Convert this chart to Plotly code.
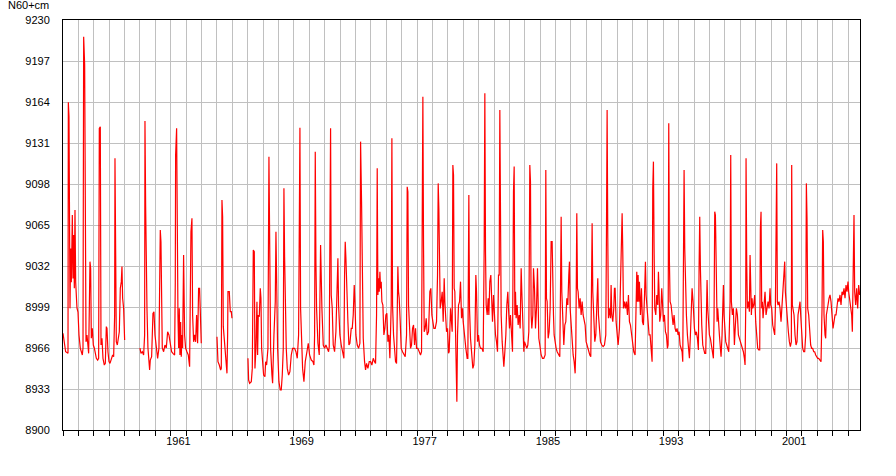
import plotly.graph_objects as go

# Water level readings (decimal year, level in N60+cm), one list per continuous record segment
seg_1954_1957 = [(1954.000,8977.8),(1954.173,8963.0),(1954.325,8961.7),(1954.346,9163.7),(1954.390,9152.2),(1954.455,8997.9),(1954.498,9046.0),(1954.541,9019.0),(1954.606,9073.0),(1954.649,9022.0),(1954.693,9057.0),(1954.736,9014.0),(1954.779,9077.0),(1954.823,9019.0),(1954.866,9006.0),(1954.909,8998.0),(1954.974,8995.0),(1955.039,8976.5),(1955.126,8965.7),(1955.212,8963.0),(1955.255,8960.4),(1955.299,8966.0),(1955.342,9216.6),(1955.407,9193.8),(1955.450,9030.0),(1955.494,8971.0),(1955.558,8976.5),(1955.623,8966.0),(1955.667,8961.7),(1955.710,8998.0),(1955.753,9035.5),(1955.797,9030.0),(1955.840,8973.8),(1955.905,8981.8),(1955.970,8968.4),(1956.035,8966.0),(1956.100,8961.7),(1956.165,8957.7),(1956.251,8956.3),(1956.316,8957.7),(1956.359,9142.8),(1956.424,9144.1),(1956.468,8968.4),(1956.532,8973.8),(1956.597,8957.7),(1956.684,8952.3),(1956.749,8953.6),(1956.814,8983.2),(1956.857,8981.8),(1956.922,8963.0),(1956.987,8955.0),(1957.052,8953.6),(1957.139,8957.7),(1957.225,8960.4),(1957.290,8959.0),(1957.355,8992.6),(1957.377,9118.7),(1957.420,9011.3),(1957.463,8971.1),(1957.528,8968.4),(1957.593,8973.8),(1957.658,8979.1),(1957.723,9014.0),(1957.788,9019.4),(1957.831,9031.5),(1957.874,9006.0),(1957.939,8997.9),(1958.004,8972.4)]

seg_1959_1962 = [(1959.000,8966.0),(1959.065,8961.7),(1959.152,8963.0),(1959.238,8960.4),(1959.303,8976.5),(1959.325,9148.7),(1959.368,9081.0),(1959.411,9000.6),(1959.455,8997.9),(1959.519,8966.0),(1959.584,8955.0),(1959.628,8948.3),(1959.671,8956.3),(1959.758,8959.0),(1959.844,8993.9),(1959.909,8995.2),(1959.974,8976.5),(1960.061,8966.0),(1960.147,8957.7),(1960.234,8966.0),(1960.320,9061.0),(1960.364,9051.6),(1960.407,8976.5),(1960.450,8966.0),(1960.537,8963.0),(1960.623,8968.4),(1960.710,8966.0),(1960.797,8979.0),(1960.883,8976.5),(1960.970,8968.4),(1961.056,8963.0),(1961.143,8961.7),(1961.251,8960.4),(1961.294,9019.0),(1961.316,9121.3),(1961.381,9142.8),(1961.424,9011.3),(1961.468,8992.6),(1961.511,8966.0),(1961.554,8998.0),(1961.597,8960.4),(1961.641,8987.0),(1961.684,8959.0),(1961.727,8976.5),(1961.771,8966.0),(1961.835,9040.9),(1961.900,8976.5),(1961.965,8966.0),(1962.052,8963.0),(1962.139,8960.4),(1962.225,8951.0),(1962.268,8992.6),(1962.312,9059.6),(1962.377,9070.4),(1962.420,8992.6),(1962.485,8971.0),(1962.550,8976.5),(1962.615,8971.0),(1962.680,8992.6),(1962.745,8969.8),(1962.810,9014.0),(1962.874,9014.0),(1962.939,8992.6),(1962.983,8969.8)]

seg_1964 = [(1964.002,8975.1),(1964.067,8955.0),(1964.154,8952.3),(1964.241,8948.3),(1964.284,8949.6),(1964.327,9085.1),(1964.370,9071.7),(1964.414,8983.2),(1964.457,8976.5),(1964.522,8965.7),(1964.587,8957.7),(1964.652,8945.6),(1964.695,8976.5),(1964.717,9011.3),(1964.803,9011.3),(1964.868,8995.2),(1964.933,8995.2),(1964.977,8989.9)]

seg_1966_1974 = [(1966.016,8957.7),(1966.059,8940.2),(1966.124,8937.6),(1966.232,8938.9),(1966.297,8949.6),(1966.362,9044.9),(1966.427,9043.5),(1966.470,8949.6),(1966.535,8965.7),(1966.600,9003.3),(1966.643,8960.4),(1966.686,8992.6),(1966.751,8991.2),(1966.816,9014.0),(1966.860,9006.0),(1966.903,8965.7),(1966.968,8955.0),(1967.033,8944.2),(1967.119,8942.9),(1967.163,8955.0),(1967.228,8952.3),(1967.314,8965.7),(1967.379,9120.0),(1967.422,9030.1),(1967.487,8965.7),(1967.574,8944.2),(1967.617,8937.6),(1967.704,8976.5),(1967.790,9003.3),(1967.834,9059.6),(1967.877,9014.0),(1967.942,8965.7),(1968.028,8938.9),(1968.115,8932.2),(1968.180,8932.2),(1968.245,8944.2),(1968.310,8965.7),(1968.353,9094.5),(1968.396,9039.5),(1968.439,9003.3),(1968.504,8965.7),(1968.569,8949.6),(1968.656,8944.2),(1968.742,8946.9),(1968.829,8960.4),(1968.916,8965.7),(1969.046,8965.7),(1969.132,8963.0),(1969.219,8957.7),(1969.305,8976.5),(1969.392,9143.3),(1969.435,8997.9),(1969.500,8976.5),(1969.565,8949.6),(1969.652,8938.9),(1969.738,8955.0),(1969.847,8963.0),(1969.933,8969.8),(1970.020,8960.4),(1970.128,8956.3),(1970.236,8955.0),(1970.301,8952.3),(1970.345,8976.5),(1970.388,9124.0),(1970.431,9035.5),(1970.474,8997.9),(1970.561,8969.8),(1970.647,8960.4),(1970.734,9048.9),(1970.777,9006.0),(1970.820,8997.9),(1970.907,8968.4),(1970.994,8965.7),(1971.080,8968.4),(1971.167,8965.7),(1971.253,8963.0),(1971.297,8967.1),(1971.340,9126.7),(1971.383,9142.8),(1971.426,9008.7),(1971.491,8997.9),(1971.556,8968.4),(1971.643,8963.0),(1971.729,8979.1),(1971.794,9024.7),(1971.859,9038.2),(1971.903,9000.6),(1971.989,8976.5),(1972.076,8968.4),(1972.162,8963.0),(1972.249,8957.7),(1972.292,9024.7),(1972.335,9051.6),(1972.379,9038.2),(1972.422,9011.3),(1972.465,9008.7),(1972.509,8987.2),(1972.574,8968.4),(1972.639,8969.8),(1972.725,8981.8),(1972.790,8981.8),(1972.855,8992.6),(1972.920,9016.7),(1972.964,9003.3),(1973.028,8976.5),(1973.115,8968.4),(1973.202,8965.7),(1973.288,8969.8),(1973.332,9132.1),(1973.396,9083.8),(1973.440,9019.4),(1973.505,8973.8),(1973.591,8955.0),(1973.656,8948.3),(1973.721,8953.6),(1973.808,8949.6),(1973.894,8955.0),(1973.981,8955.0),(1974.067,8952.3),(1974.154,8957.7)]

seg_1974_1984 = [(1974.240,8955.0),(1974.305,8953.6),(1974.370,8992.6),(1974.413,9110.6),(1974.457,9008.7),(1974.500,9022.1),(1974.543,9011.3),(1974.587,9027.4),(1974.630,9014.0),(1974.673,9019.4),(1974.716,9003.3),(1974.781,9000.6),(1974.846,8976.5),(1974.911,8981.8),(1974.976,8992.6),(1975.041,8993.9),(1975.106,8971.1),(1975.171,8976.5),(1975.236,8957.7),(1975.279,8992.6),(1975.322,9000.6),(1975.366,9134.8),(1975.409,9000.6),(1975.474,8976.5),(1975.539,8963.0),(1975.604,8955.0),(1975.669,8953.6),(1975.712,9003.3),(1975.755,9031.5),(1975.798,9011.3),(1975.842,9006.0),(1975.907,8987.2),(1975.972,8965.7),(1976.058,8963.0),(1976.145,8960.4),(1976.231,8959.0),(1976.318,8976.5),(1976.361,9095.8),(1976.405,9091.8),(1976.448,9000.6),(1976.513,8976.5),(1976.578,8965.7),(1976.643,8968.4),(1976.708,8981.8),(1976.773,8984.5),(1976.838,8968.4),(1976.903,8981.8),(1976.968,8965.7),(1977.054,8965.7),(1977.141,8963.0),(1977.227,8960.4),(1977.292,8963.0),(1977.336,9051.6),(1977.379,9168.3),(1977.422,9048.9),(1977.465,8979.1),(1977.530,8981.8),(1977.595,8989.9),(1977.660,8976.5),(1977.747,8979.1),(1977.833,9011.3),(1977.898,9014.0),(1977.963,8992.6),(1978.028,8984.5),(1978.093,8981.8),(1978.180,8981.8),(1978.266,8987.2),(1978.331,9024.7),(1978.374,9098.5),(1978.418,9078.4),(1978.461,9014.0),(1978.504,8997.9),(1978.569,9003.3),(1978.634,9011.3),(1978.699,8987.2),(1978.764,9022.1),(1978.807,9003.3),(1978.851,8989.9),(1978.916,8979.1),(1978.981,8981.8),(1979.046,8961.7),(1979.089,8963.0),(1979.175,8997.9),(1979.284,8979.1),(1979.327,9113.3),(1979.370,9105.2),(1979.413,9014.0),(1979.456,9011.3),(1979.521,8965.7),(1979.587,8922.8),(1979.630,8976.5),(1979.695,9000.6),(1979.760,9003.3),(1979.825,9019.4),(1979.890,8989.9),(1979.955,8997.9),(1979.998,8987.2),(1980.084,8973.8),(1980.171,8965.7),(1980.257,8957.7),(1980.301,8957.7),(1980.366,9089.1),(1980.409,8997.9),(1980.474,8973.8),(1980.560,8953.6),(1980.625,8949.6),(1980.690,8952.3),(1980.755,8968.4),(1980.820,9024.7),(1980.864,9011.3),(1980.929,8971.1),(1980.994,8976.5),(1981.059,8968.4),(1981.124,8965.7),(1981.210,8965.7),(1981.297,8963.0),(1981.361,9046.2),(1981.405,9171.0),(1981.448,9043.5),(1981.491,9000.6),(1981.556,8992.6),(1981.621,9006.0),(1981.665,8992.6),(1981.729,9019.4),(1981.794,9024.7),(1981.838,9003.3),(1981.903,8987.2),(1981.968,9008.7),(1982.033,8987.2),(1982.097,8976.5),(1982.162,8971.1),(1982.227,8963.0),(1982.292,9024.7),(1982.336,9024.7),(1982.379,9157.6),(1982.422,9035.5),(1982.465,8992.6),(1982.530,8971.1),(1982.595,8957.7),(1982.639,8951.0),(1982.704,8963.0),(1982.769,8976.5),(1982.833,9000.6),(1982.898,9011.3),(1982.942,8997.9),(1983.006,8981.8),(1983.071,8992.6),(1983.136,8979.1),(1983.201,8963.0),(1983.266,9091.8),(1983.310,9112.0),(1983.353,8992.6),(1983.396,9011.3),(1983.439,8989.9),(1983.504,9000.6),(1983.569,8984.5),(1983.634,8992.6),(1983.699,8981.8),(1983.764,9030.1),(1983.807,9011.3),(1983.872,8979.1),(1983.937,8963.0),(1983.980,8971.1),(1984.045,8968.4),(1984.132,8965.7),(1984.197,8968.4),(1984.262,8979.1),(1984.327,9113.3),(1984.370,9099.9),(1984.413,8992.6),(1984.457,8981.8),(1984.522,8992.6),(1984.565,9030.1),(1984.630,9014.0)]

seg_1984_1994 = [(1984.695,8981.8),(1984.760,8997.9),(1984.825,9030.1),(1984.868,9003.3),(1984.911,8973.8),(1984.976,8968.4),(1985.063,8960.4),(1985.149,8957.7),(1985.236,8957.7),(1985.323,8960.4),(1985.366,9109.3),(1985.409,9006.0),(1985.452,9003.3),(1985.517,8973.8),(1985.582,8979.1),(1985.647,8997.9),(1985.712,9051.6),(1985.777,9051.6),(1985.820,9011.3),(1985.864,8992.6),(1985.907,8976.5),(1985.972,8968.4),(1986.037,8965.7),(1986.102,8963.0),(1986.188,8960.4),(1986.275,8959.0),(1986.318,9011.3),(1986.362,9071.7),(1986.405,9011.3),(1986.470,8992.6),(1986.535,8968.4),(1986.600,8984.5),(1986.665,8987.2),(1986.730,9006.0),(1986.794,9000.6),(1986.859,9024.7),(1986.903,9035.5),(1986.946,8997.9),(1987.011,8981.8),(1987.076,8965.7),(1987.141,8960.4),(1987.206,8955.0),(1987.271,8945.6),(1987.314,8965.7),(1987.336,9073.0),(1987.379,9074.4),(1987.422,9014.0),(1987.465,9011.3),(1987.530,8997.9),(1987.595,9006.0),(1987.660,8992.6),(1987.725,9003.3),(1987.790,8992.6),(1987.855,8987.2),(1987.920,8984.5),(1987.985,8971.1),(1988.050,8968.4),(1988.136,8963.0),(1988.223,8960.4),(1988.288,8959.0),(1988.331,9000.6),(1988.374,9066.3),(1988.418,9011.3),(1988.483,8987.2),(1988.548,8971.1),(1988.613,8976.5),(1988.678,8997.9),(1988.742,9022.1),(1988.786,8992.6),(1988.851,8979.1),(1988.916,8971.1),(1989.002,8968.4),(1989.089,8967.1),(1989.175,8968.4),(1989.262,8976.5),(1989.305,9056.9),(1989.349,9157.6),(1989.392,9054.3),(1989.435,8989.9),(1989.500,8997.9),(1989.565,8989.9),(1989.608,9016.7),(1989.652,8992.6),(1989.717,8987.2),(1989.781,8997.9),(1989.825,9014.0),(1989.868,9014.0),(1989.933,8987.2),(1989.998,8976.5),(1990.063,8968.4),(1990.149,8981.8),(1990.258,9043.5),(1990.323,9074.4),(1990.366,9043.5),(1990.409,8997.9),(1990.474,9003.3),(1990.539,8997.9),(1990.604,9003.3),(1990.669,8992.6),(1990.734,9008.7),(1990.799,8987.2),(1990.864,8984.5),(1990.929,8976.5),(1990.994,8968.4),(1991.080,8963.0),(1991.167,8960.4),(1991.232,8995.2),(1991.275,9027.4),(1991.318,9003.3),(1991.362,9024.7),(1991.405,9003.3),(1991.448,9019.4),(1991.513,8992.6),(1991.578,9014.0),(1991.643,8987.2),(1991.708,8984.5),(1991.773,9006.0),(1991.838,9035.5),(1991.881,9008.7),(1991.946,8992.6),(1992.011,8987.2),(1992.076,8976.5),(1992.141,8976.5),(1992.206,8965.7),(1992.271,8955.0),(1992.314,9094.5),(1992.357,9116.0),(1992.400,9046.2),(1992.444,8997.9),(1992.509,8992.6),(1992.573,9008.7),(1992.638,9000.6),(1992.682,9027.4),(1992.725,9011.3),(1992.768,8987.2),(1992.833,8992.6),(1992.898,9014.0),(1992.942,9003.3),(1993.006,8987.2),(1993.071,8992.6),(1993.136,8979.1),(1993.201,8976.5),(1993.266,8965.7),(1993.310,8968.4),(1993.353,9146.8),(1993.396,9035.5),(1993.440,9003.3),(1993.504,9000.6),(1993.569,8992.6),(1993.634,8984.5),(1993.699,8992.6),(1993.764,8981.8),(1993.829,8979.1),(1993.894,8981.8),(1993.959,8976.5),(1994.024,8979.1),(1994.089,8968.4),(1994.154,8965.7),(1994.219,8963.0),(1994.262,8955.0),(1994.305,9046.2),(1994.349,9109.3),(1994.392,9046.2),(1994.435,9008.7),(1994.500,8992.6),(1994.565,8976.5),(1994.630,8965.7),(1994.695,8957.7),(1994.760,8976.5),(1994.803,8992.6),(1994.868,9014.0),(1994.933,9003.3),(1994.998,8981.8)]

seg_1995_2005 = [(1995.020,8981.8),(1995.084,8976.5),(1995.149,8979.1),(1995.214,8973.8),(1995.279,8964.4),(1995.323,9030.1),(1995.366,9071.7),(1995.409,9030.1),(1995.452,8987.2),(1995.496,8984.5),(1995.561,8968.4),(1995.626,8965.7),(1995.690,8961.7),(1995.755,8961.7),(1995.799,8992.6),(1995.842,9020.7),(1995.885,8997.9),(1995.929,8984.5),(1995.994,8976.5),(1996.058,8973.8),(1996.123,8968.4),(1996.188,8963.0),(1996.253,8957.7),(1996.297,8992.6),(1996.340,9075.7),(1996.383,9073.0),(1996.405,9056.9),(1996.448,9000.6),(1996.491,8987.2),(1996.535,8997.9),(1996.578,8984.5),(1996.643,8976.5),(1996.708,8965.7),(1996.751,8959.0),(1996.816,8976.5),(1996.859,8997.9),(1996.903,9016.7),(1996.946,8992.6),(1996.989,8979.1),(1997.054,8971.1),(1997.119,8968.4),(1997.184,8964.4),(1997.249,8963.0),(1997.336,9003.3),(1997.379,9121.3),(1997.422,9003.3),(1997.487,8992.6),(1997.552,8997.9),(1997.617,8968.4),(1997.682,8984.5),(1997.747,8997.9),(1997.812,8992.6),(1997.877,8976.5),(1997.942,8973.8),(1998.006,8971.1),(1998.071,8968.4),(1998.136,8965.7),(1998.201,8963.0),(1998.266,8957.7),(1998.310,8952.3),(1998.353,8997.9),(1998.374,9118.7),(1998.418,9035.5),(1998.461,8997.9),(1998.526,9003.3),(1998.591,8995.2),(1998.634,9040.9),(1998.677,9008.7),(1998.721,8992.6),(1998.764,9006.0),(1998.807,8997.9),(1998.872,9000.6),(1998.937,9008.7),(1999.002,8987.2),(1999.067,8976.5),(1999.132,8965.7),(1999.197,8964.4),(1999.262,8964.4),(1999.305,9062.3),(1999.348,9075.7),(1999.392,8997.9),(1999.435,9003.3),(1999.478,8989.9),(1999.543,9000.6),(1999.608,9011.3),(1999.673,8992.6),(1999.738,9000.6),(1999.803,9003.3),(1999.868,8997.9),(1999.933,9014.0),(1999.976,9000.6),(2000.041,8997.9),(2000.106,8984.5),(2000.171,8979.1),(2000.236,8976.5),(2000.279,8997.9),(2000.322,9094.5),(2000.366,9114.6),(2000.409,9003.3),(2000.452,9000.6),(2000.517,9003.3),(2000.582,8997.9),(2000.647,8987.2),(2000.712,9000.6),(2000.777,9006.0),(2000.842,9019.4),(2000.885,9035.5),(2000.928,9011.3),(2000.993,8997.9),(2001.058,8987.2),(2001.123,8979.1),(2001.188,8971.1),(2001.253,8967.1),(2001.318,8971.1),(2001.340,9113.3),(2001.383,9000.6),(2001.426,8997.9),(2001.491,8992.6),(2001.556,8976.5),(2001.621,8968.4),(2001.686,8971.1),(2001.751,8992.6),(2001.816,8997.9),(2001.881,9003.3),(2001.924,8992.6),(2001.989,8976.5),(2002.054,8965.7),(2002.119,8963.0),(2002.184,8963.0),(2002.249,8976.5),(2002.292,9098.5),(2002.335,9070.4),(2002.379,8997.9),(2002.444,8992.6),(2002.509,8976.5),(2002.573,8968.4),(2002.638,8965.7),(2002.703,8965.7),(2002.768,8963.0),(2002.833,8963.0),(2002.898,8960.4),(2002.963,8959.0),(2003.028,8957.7),(2003.093,8957.7),(2003.158,8956.3),(2003.245,8955.0),(2003.310,8997.9),(2003.353,9061.0),(2003.396,9051.6),(2003.439,8992.6),(2003.504,8976.5),(2003.548,8973.8),(2003.591,8992.6),(2003.634,8997.9),(2003.699,9000.6),(2003.764,9006.0),(2003.829,9008.7),(2003.894,9003.3),(2003.959,8992.6),(2004.024,8981.8),(2004.089,8987.2),(2004.154,8992.6),(2004.219,8992.6),(2004.284,9000.6),(2004.348,9006.0),(2004.413,9003.3),(2004.478,9008.7),(2004.543,9000.6),(2004.608,9011.3),(2004.673,9008.7),(2004.738,9014.0),(2004.803,9006.0),(2004.868,9016.7),(2004.933,9011.3),(2004.998,9019.4),(2005.041,9011.3),(2005.106,9006.0),(2005.171,8997.9),(2005.236,8992.6),(2005.279,8979.1),(2005.344,9073.0),(2005.387,9073.0),(2005.431,9011.3),(2005.496,9000.6),(2005.560,9014.0),(2005.625,8997.9),(2005.690,9016.7),(2005.755,9008.7)]

segments = [seg_1954_1957, seg_1959_1962, seg_1964, seg_1966_1974, seg_1974_1984, seg_1984_1994, seg_1995_2005]

# axis definitions
y_ticks = [8900, 8933, 8966, 8999, 9032, 9065, 9098, 9131, 9164, 9197, 9230]
year_bounds = list(range(1954, 2006))
label_years = [1961, 1969, 1977, 1985, 1993, 2001]
x_start, x_end = 1954.0, 2005.777
y_title = "N60+cm"

# join segments; a gap (None) separates record segments (gaps within 1 yr are bridged)
xs, ys = [], []
prev_end = None
for seg in segments:
    if prev_end is not None and seg[0][0] - prev_end > 0.5:
        xs.append(None)
        ys.append(None)
    for t, h in seg:
        xs.append(t)
        ys.append(h)
    prev_end = seg[-1][0]

font_family = "Liberation Sans, Arial, sans-serif"

fig = go.Figure()
fig.add_trace(go.Scatter(
    x=xs, y=ys, mode="lines",
    line=dict(color="#ff0000", width=1.2),
    connectgaps=False, hoverinfo="skip", showlegend=False,
))

fig.update_layout(
    width=896, height=476,
    margin=dict(l=63, r=36, t=20, b=46),
    paper_bgcolor="white", plot_bgcolor="white",
    font=dict(family=font_family, size=11, color="black"),
    xaxis=dict(
        range=[x_start, x_end],
        tickmode="array",
        tickvals=[y + 0.5 for y in label_years],
        ticktext=[str(y) for y in label_years],
        ticks="", showgrid=False, zeroline=False,
        showline=True, linecolor="black", linewidth=1, mirror=True,
        ticklabelstandoff=1,
        minor=dict(tickmode="array", tickvals=year_bounds, ticks="outside",
                   ticklen=5, tickcolor="black", tickwidth=1,
                   showgrid=True, gridcolor="#c0c0c0", gridwidth=1),
        fixedrange=True,
    ),
    yaxis=dict(
        range=[8900, 9230],
        tickmode="array", tickvals=y_ticks,
        ticktext=[str(v) for v in y_ticks],
        ticks="", showgrid=True, gridcolor="#c0c0c0", gridwidth=1,
        zeroline=False,
        showline=True, linecolor="black", linewidth=1, mirror=True,
        ticklabelstandoff=10,
        fixedrange=True,
    ),
    annotations=[dict(
        text=y_title, xref="paper", yref="paper",
        x=-0.071, y=1.037, xanchor="left", yanchor="middle",
        showarrow=False, font=dict(family=font_family, size=11, color="black"),
    )],
)

fig.write_html(
    "out.html",
    config={"displayModeBar": False},
    post_script="document.body.style.margin='0';document.body.style.padding='0';",
)
